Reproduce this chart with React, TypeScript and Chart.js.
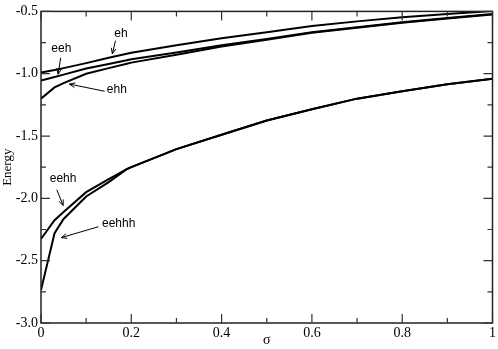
import React, { useEffect, useRef } from "react";
import { Chart, registerables } from "chart.js";

Chart.register(...registerables);

// sigma values (x)
const sigma = [0, 0.03, 0.05, 0.1, 0.15, 0.19, 0.2, 0.3, 0.4, 0.5, 0.6, 0.7, 0.8, 0.9, 1.0];

// energies for each configuration
const eh = [-0.99, -0.97, -0.955, -0.915, -0.872, -0.84, -0.832, -0.772, -0.716, -0.667, -0.617, -0.58, -0.546, -0.52, -0.497];
const eeh = [-1.055, -1.027, -1.007, -0.958, -0.922, -0.892, -0.884, -0.83, -0.772, -0.722, -0.667, -0.627, -0.587, -0.552, -0.521];
const ehh = [-1.2, -1.11, -1.075, -1.0, -0.955, -0.92, -0.911, -0.847, -0.782, -0.728, -0.671, -0.631, -0.591, -0.556, -0.524];
const eehh = [-2.325, -2.175, -2.11, -1.95, -1.845, -1.765, -1.75, -1.605, -1.49, -1.375, -1.285, -1.2, -1.14, -1.085, -1.04];
const eehhh = [-2.735, -2.28, -2.165, -1.985, -1.87, -1.765, -1.75, -1.605, -1.49, -1.375, -1.285, -1.2, -1.14, -1.085, -1.04];

const seriesNames = ["eh", "eeh", "ehh", "eehh", "eehhh"];
const seriesValues = [eh, eeh, ehh, eehh, eehhh];

// annotation labels (data coordinates)
const annLabels = ["eh", "eeh", "ehh", "eehh", "eehhh"];
const annTextX = [0.177, 0.045, 0.168, 0.049, 0.172];
const annTextY = [-0.68, -0.799, -1.13, -1.841, -2.202];
const annFromX = [0.165, 0.0435, 0.141, 0.035, 0.127];
const annFromY = [-0.735, -0.872, -1.141, -1.931, -2.228];
const annToX = [0.158, 0.038, 0.063, 0.049, 0.045];
const annToY = [-0.84, -1.004, -1.083, -2.057, -2.315];

const xMin = 0, xMax = 1, xStep = 0.2;
const yMin = -3, yMax = -0.5, yStep = 0.5;

const serif = "'Liberation Serif', 'Times New Roman', serif";
const sans = "'Liberation Sans', Arial, sans-serif";

const framePlugin = {
  id: "frameTicks",
  afterDraw(chart: any) {
    const { ctx, chartArea } = chart;
    const xs = chart.scales.x;
    const ys = chart.scales.y;
    const { left, right, top, bottom } = chartArea;
    ctx.save();
    ctx.strokeStyle = "#222";
    ctx.lineWidth = 1.5;
    ctx.strokeRect(left, top, right - left, bottom - top);
    ctx.lineWidth = 1.2;
    ctx.strokeStyle = "#333";
    const major = 9, minor = 5;
    const xt = xs.ticks.map((t: any) => t.value);
    const yt = ys.ticks.map((t: any) => t.value);
    const drawX = (v: number, len: number) => {
      const p = xs.getPixelForValue(v);
      ctx.beginPath();
      ctx.moveTo(p, bottom);
      ctx.lineTo(p, bottom - len);
      ctx.moveTo(p, top);
      ctx.lineTo(p, top + len);
      ctx.stroke();
    };
    const drawY = (v: number, len: number) => {
      const p = ys.getPixelForValue(v);
      ctx.beginPath();
      ctx.moveTo(left, p);
      ctx.lineTo(left + len, p);
      ctx.moveTo(right, p);
      ctx.lineTo(right - len, p);
      ctx.stroke();
    };
    xt.forEach((v: number, i: number) => {
      drawX(v, major);
      if (i < xt.length - 1) drawX((v + xt[i + 1]) / 2, minor);
    });
    yt.forEach((v: number, i: number) => {
      drawY(v, major);
      if (i < yt.length - 1) drawY((v + yt[i + 1]) / 2, minor);
    });

    // annotations
    ctx.fillStyle = "#000";
    ctx.strokeStyle = "#000";
    ctx.lineWidth = 1;
    ctx.font = `12px ${sans}`;
    ctx.textAlign = "center";
    ctx.textBaseline = "middle";
    annLabels.forEach((lab, i) => {
      const tx = xs.getPixelForValue(annTextX[i]);
      const ty = ys.getPixelForValue(annTextY[i]);
      ctx.fillText(lab, tx, ty);
      const x1 = xs.getPixelForValue(annFromX[i]);
      const y1 = ys.getPixelForValue(annFromY[i]);
      const x2 = xs.getPixelForValue(annToX[i]);
      const y2 = ys.getPixelForValue(annToY[i]);
      ctx.beginPath();
      ctx.moveTo(x1, y1);
      ctx.lineTo(x2, y2);
      ctx.stroke();
      const ang = Math.atan2(y2 - y1, x2 - x1);
      const hl = 6, ha = 0.4;
      ctx.beginPath();
      ctx.moveTo(x2 - hl * Math.cos(ang - ha), y2 - hl * Math.sin(ang - ha));
      ctx.lineTo(x2, y2);
      ctx.lineTo(x2 - hl * Math.cos(ang + ha), y2 - hl * Math.sin(ang + ha));
      ctx.stroke();
    });
    ctx.restore();
  },
};

export default function App() {
  const ref = useRef<HTMLCanvasElement | null>(null);
  useEffect(() => {
    document.body.style.margin = "0";
    const canvas = ref.current!;
    const chart = new Chart(canvas, {
      type: "line",
      data: {
        datasets: seriesValues.map((vals, i) => ({
          label: seriesNames[i],
          data: sigma.map((s, j) => ({ x: s, y: vals[j] })),
          borderColor: "#000",
          borderWidth: 2,
          pointRadius: 0,
          fill: false,
          tension: 0,
        })),
      },
      options: {
        responsive: false,
        animation: false,
        devicePixelRatio: 1,
        layout: { padding: { top: 6, right: 4, left: 0, bottom: 0 } },
        plugins: { legend: { display: false }, tooltip: { enabled: false } },
        scales: {
          x: {
            type: "linear",
            min: xMin,
            max: xMax,
            grid: { display: false, drawTicks: false },
            border: { display: false },
            ticks: {
              stepSize: xStep,
              padding: 2,
              color: "#000",
              font: { family: serif, size: 14 },
              maxRotation: 0,
              callback: (v: any) => {
                const n = Number(v);
                return Math.abs(n) < 1e-9 ? "0" : Math.abs(n - 1) < 1e-9 ? "1" : n.toFixed(1);
              },
            },
            title: {
              display: true,
              text: "σ",
              color: "#000",
              font: { family: serif, size: 14 },
              padding: 0,
            },
            afterFit: (s: any) => {
              s.height = 26;
            },
          },
          y: {
            type: "linear",
            min: yMin,
            max: yMax,
            grid: { display: false, drawTicks: false },
            border: { display: false },
            ticks: {
              stepSize: yStep,
              padding: 3,
              color: "#000",
              font: { family: serif, size: 14 },
              callback: (v: any) => Number(v).toFixed(1),
            },
            title: {
              display: true,
              text: "Energy",
              color: "#000",
              font: { family: serif, size: 13 },
              padding: 0,
            },
            afterFit: (s: any) => {
              s.width = 41;
            },
          },
        },
      },
      plugins: [framePlugin],
    } as any);
    return () => chart.destroy();
  }, []);
  return (
    <canvas
      ref={ref}
      width={498}
      height={349}
      style={{ display: "block", width: 498, height: 349 }}
    />
  );
}
